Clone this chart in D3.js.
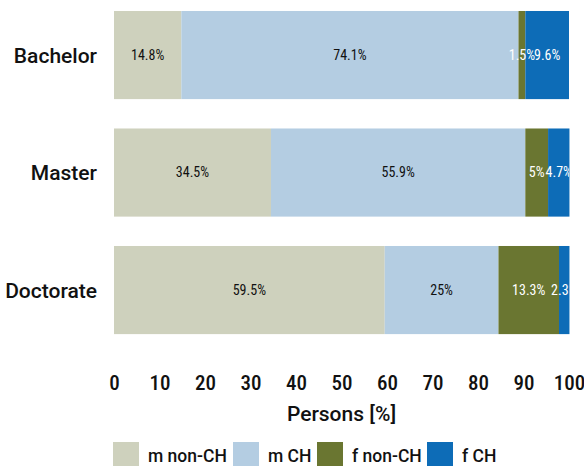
<!DOCTYPE html>
<html>
<head>
<meta charset="utf-8">
<script src="https://cdn.jsdelivr.net/npm/d3@7"></script>
<style>
  html, body { margin: 0; padding: 0; background: #fff; }
  svg { display: block; }
  text { fill: #111; }
  .word { font-family: Roboto, "Noto Sans", sans-serif; font-weight: 500; }
  .num { font-family: "Roboto Condensed", "Liberation Sans Narrow", "DejaVu Sans Condensed", sans-serif; font-weight: 500; }
  .val { font-family: "Roboto Condensed", "Liberation Sans Narrow", "DejaVu Sans Condensed", sans-serif; font-weight: 400; }
</style>
</head>
<body>
<svg id="chart" width="584" height="466"></svg>
<script>
// Degree levels (top to bottom)
const degrees = ["Bachelor", "Master", "Doctorate"];
// Stack groups, left to right
const groups = ["m non-CH", "m CH", "f non-CH", "f CH"];
const groupColors = ["#ced1bd", "#b4cde2", "#6a7631", "#0d6cb7"];
const labelColors = ["#111", "#111", "#fff", "#fff"];
// Share of persons [%] per group, one array per degree
const bachelor = [14.8, 74.1, 1.5, 9.6];
const master = [34.5, 55.9, 5, 4.7];
const doctorate = [59.5, 25, 13.3, 2.3];
const shares = [bachelor, master, doctorate];
const xTicks = [0, 10, 20, 30, 40, 50, 60, 70, 80, 90, 100];
const xTitle = "Persons [%]";

const svg = d3.select("#chart");

const x = d3.scaleLinear().domain([0, 100]).range([114, 569]);
const y = d3.scaleBand().domain(degrees).range([-3.7, 348.8])
  .paddingInner(0.25).paddingOuter(0.125);
const color = d3.scaleOrdinal().domain(groups).range(groupColors);
const textColor = d3.scaleOrdinal().domain(groups).range(labelColors);

const rows = degrees.map((d, i) => {
  const r = { degree: d };
  groups.forEach((g, j) => r[g] = shares[i][j]);
  return r;
});
const series = d3.stack().keys(groups)(rows);

// keep the value labels inside the plot area
svg.append("defs").append("clipPath").attr("id", "plot")
  .append("rect").attr("x", x(0)).attr("y", 0)
  .attr("width", x(100) - x(0)).attr("height", 360);

const layer = svg.append("g").selectAll("g").data(series).join("g")
  .attr("fill", s => color(s.key));

layer.selectAll("rect").data(s => s.map(d => ({ d, key: s.key })))
  .join("rect")
  .attr("x", o => x(o.d[0]))
  .attr("y", o => y(o.d.data.degree))
  .attr("width", o => x(o.d[1]) - x(o.d[0]))
  .attr("height", y.bandwidth());

const labels = svg.append("g").attr("clip-path", "url(#plot)");
series.forEach(s => {
  labels.selectAll(null).data(s).join("text")
    .attr("class", "val")
    .attr("x", d => x((d[0] + d[1]) / 2))
    .attr("y", d => y(d.data.degree) + y.bandwidth() / 2)
    .attr("dy", "0.35em")
    .attr("text-anchor", "middle")
    .attr("font-size", 14)
    .style("fill", textColor(s.key))
    .text(d => d.data[s.key] + "%");
});

// category labels
const yAxis = svg.append("g").attr("transform", `translate(${x(0) - 17},0)`)
  .call(d3.axisLeft(y).tickSize(0).tickPadding(0));
yAxis.select(".domain").remove();
yAxis.selectAll("text").attr("class", "word").attr("font-size", 21)
  .attr("font-family", null).attr("dy", "0.36em");

// x axis ticks
const xAxis = svg.append("g").attr("transform", "translate(0,375)")
  .call(d3.axisBottom(x).tickValues(xTicks).tickSize(0).tickPadding(0));
xAxis.select(".domain").remove();
xAxis.selectAll("text").attr("class", "num").attr("dy", "0.72em").attr("font-size", 21)
  .attr("font-family", null);

svg.append("text").attr("class", "word")
  .attr("x", (x(0) + x(100)) / 2).attr("y", 421)
  .attr("text-anchor", "middle").attr("font-size", 21)
  .text(xTitle);

// legend
const legendX = [113, 233, 317, 427];
const legend = svg.append("g").selectAll("g").data(groups).join("g")
  .attr("transform", (g, i) => `translate(${legendX[i]},442)`);
legend.append("rect").attr("width", 26).attr("height", 26).attr("fill", g => color(g));
legend.append("text").attr("class", "word").attr("x", 35).attr("y", 20)
  .attr("font-size", 17.5).text(g => g);
</script>
</body>
</html>
